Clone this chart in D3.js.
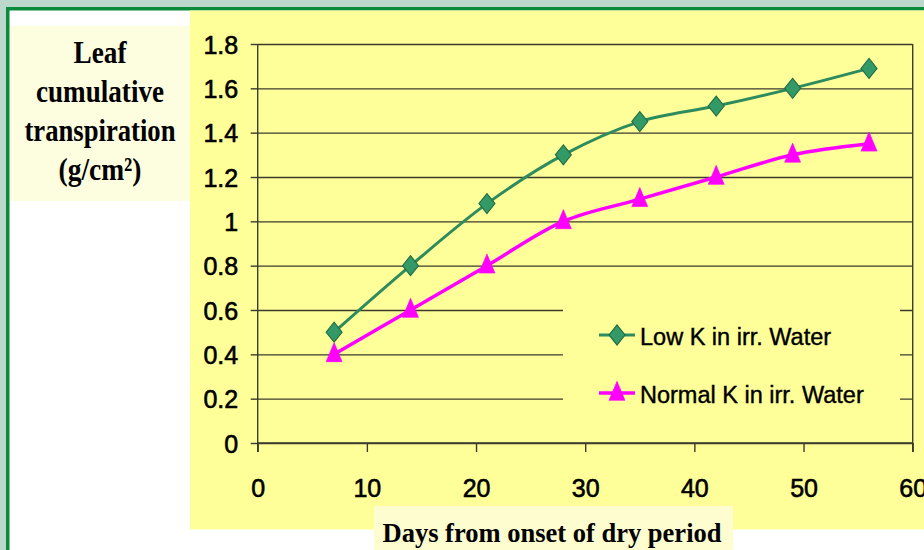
<!DOCTYPE html>
<html>
<head>
<meta charset="utf-8">
<script src="https://cdn.jsdelivr.net/npm/d3@7"></script>
<style>
  html, body { margin: 0; padding: 0; background: #bcd8cc; }
  svg { display: block; }
</style>
</head>
<body>
<svg id="chart" width="924" height="550"></svg>
<script>
// ---- data ----
const days = [7, 14, 21, 28, 35, 42, 49, 56];
const lowK = [0.5, 0.8, 1.08, 1.3, 1.45, 1.52, 1.6, 1.69];
const normalK = [0.4, 0.6, 0.8, 1.0, 1.1, 1.2, 1.3, 1.35];
const seriesNames = ["Low K in irr. Water", "Normal K in irr. Water"];
const yTicks = [0, 0.2, 0.4, 0.6, 0.8, 1, 1.2, 1.4, 1.6, 1.8];
const yTickLabels = ["0", "0.2", "0.4", "0.6", "0.8", "1", "1.2", "1.4", "1.6", "1.8"];
const xTicks = [0, 10, 20, 30, 40, 50, 60];
const xTickLabels = ["0", "10", "20", "30", "40", "50", "60"];
const yTitleLines = ["Leaf", "cumulative", "transpiration", "(g/cm\u00B2)"];
const xTitle = "Days from onset of dry period";

// ---- layout ----
const svg = d3.select("#chart");
const L = 257.7, R = 912.7, T = 44, B = 443;
const x = d3.scaleLinear().domain([0, 60]).range([L, R]);
const y = d3.scaleLinear().domain([0, 1.8]).range([B, T]);

const sans = "'Liberation Sans', Arial, sans-serif";
const serif = "'Liberation Serif', 'Times New Roman', serif";

// background panels
svg.append("rect").attr("x", 0).attr("y", 0).attr("width", 924).attr("height", 550).attr("fill", "#bcd8cc");
svg.append("rect").attr("x", 6).attr("y", 7).attr("width", 930).attr("height", 560).attr("fill", "#0b8a3c");
svg.append("rect").attr("x", 9.5).attr("y", 10.5).attr("width", 930).attr("height", 560).attr("fill", "#ffffff");
svg.append("rect").attr("x", 190).attr("y", 10.5).attr("width", 740).attr("height", 519).attr("fill", "#ffff99");
// y title box
svg.append("rect").attr("x", 10).attr("y", 26).attr("width", 180).attr("height", 175).attr("fill", "#fdfde0");
// x title box
svg.append("rect").attr("x", 374).attr("y", 506).attr("width", 359).attr("height", 50).attr("fill", "#fdfdd0");

// gridlines
const grid = svg.append("g").attr("transform", `translate(${L},0)`)
  .call(d3.axisLeft(y).tickValues(yTicks).tickSize(-(R - L)).tickFormat(""));
grid.select(".domain").remove();
grid.selectAll("line").attr("stroke", "#3b3b2e").attr("stroke-width", 1.4);

// right border
svg.append("line").attr("x1", R).attr("x2", R).attr("y1", T).attr("y2", B + 9)
  .attr("stroke", "#3b3b2e").attr("stroke-width", 1.4);

// legend box (covers gridlines)
svg.append("rect").attr("x", 563).attr("y", 290).attr("width", 337).attr("height", 128).attr("fill", "#ffff99");

// y axis
const yAxis = svg.append("g").attr("transform", `translate(${L},0)`)
  .call(d3.axisLeft(y).tickValues(yTicks).tickSize(7).tickPadding(12.5)
    .tickFormat((d, i) => yTickLabels[i]));
yAxis.select(".domain").attr("d", `M0,${T}V${B + 9}`).attr("stroke", "#3b3b2e").attr("stroke-width", 1.4);
yAxis.selectAll("line").attr("stroke", "#3b3b2e").attr("stroke-width", 1.4);
yAxis.selectAll("text").attr("font-family", sans).attr("font-size", 25).attr("fill", "#000")
  .attr("stroke", "#000").attr("stroke-width", 0.6).attr("dy", "0.36em");

// x axis
const xAxis = svg.append("g").attr("transform", `translate(0,${B})`)
  .call(d3.axisBottom(x).tickValues(xTicks).tickSize(9).tickPadding(27)
    .tickFormat((d, i) => xTickLabels[i]));
xAxis.select(".domain").attr("d", `M${L},0H${R}`).attr("stroke", "#3b3b2e").attr("stroke-width", 1.4);
xAxis.selectAll("line").attr("stroke", "#3b3b2e").attr("stroke-width", 1.4);
xAxis.selectAll("text").attr("font-family", sans).attr("font-size", 25).attr("fill", "#000")
  .attr("stroke", "#000").attr("stroke-width", 0.6);

// series
const series = [
  { name: seriesNames[0], values: lowK, color: "#2e8b5e", fill: "#339966", edge: "#1f6e45", shape: "diamond" },
  { name: seriesNames[1], values: normalK, color: "#ff00ff", fill: "#ff00ff", edge: "#ff00ff", shape: "triangle" }
];

const lineGen = d3.line().x(d => x(d[0])).y(d => y(d[1])).curve(d3.curveCatmullRom.alpha(0.5));
const diamond = d3.symbol().type(d3.symbolSquare).size(128)();
const triangle = d3.symbol().type(d3.symbolTriangle).size(100)();

function drawMarker(g, shape, cx, cy, s) {
  if (shape === "diamond") {
    g.append("path").attr("d", diamond)
      .attr("transform", `translate(${cx},${cy}) scale(1,1.25) rotate(45)`)
      .attr("fill", s.fill).attr("stroke", s.edge).attr("stroke-width", 1);
  } else {
    g.append("path").attr("d", triangle)
      .attr("transform", `translate(${cx},${cy + 1}) scale(1.05,1.45)`)
      .attr("fill", s.fill).attr("stroke", s.edge).attr("stroke-width", 0.5);
  }
}

series.forEach(s => {
  const pts = days.map((d, i) => [d, s.values[i]]);
  svg.append("path").attr("d", lineGen(pts)).attr("fill", "none")
    .attr("stroke", s.color).attr("stroke-width", s.shape === "diamond" ? 3 : 3.5);
  const g = svg.append("g");
  pts.forEach(p => drawMarker(g, s.shape, x(p[0]), y(p[1]), s));
});

// legend
const legY = [335, 393];
series.forEach((s, i) => {
  const g = svg.append("g");
  g.append("line").attr("x1", 599).attr("x2", 635).attr("y1", legY[i]).attr("y2", legY[i])
    .attr("stroke", s.color).attr("stroke-width", s.shape === "diamond" ? 3 : 3.5);
  drawMarker(g, s.shape, 617, legY[i], s);
  g.append("text").attr("x", 640).attr("y", legY[i] + 9.5)
    .attr("font-family", sans).attr("font-size", 23.5).attr("fill", "#000")
    .attr("stroke", "#000").attr("stroke-width", 0.4)
    .text(s.name);
});

// y title
const yTitleLens = [53, 128, 151, 83];
const yTitleBase = [63, 102, 141, 180];
yTitleLines.forEach((t, i) => {
  svg.append("text").attr("x", 100).attr("y", yTitleBase[i]).attr("text-anchor", "middle")
    .attr("font-family", serif).attr("font-weight", "bold").attr("font-size", 32).attr("fill", "#000")
    .attr("textLength", yTitleLens[i]).attr("lengthAdjust", "spacingAndGlyphs")
    .text(t);
});

// x title
svg.append("text").attr("x", 552).attr("y", 542).attr("text-anchor", "middle")
  .attr("font-family", serif).attr("font-weight", "bold").attr("font-size", 28).attr("fill", "#000")
  .attr("textLength", 339).attr("lengthAdjust", "spacingAndGlyphs")
  .text(xTitle);
</script>
</body>
</html>
